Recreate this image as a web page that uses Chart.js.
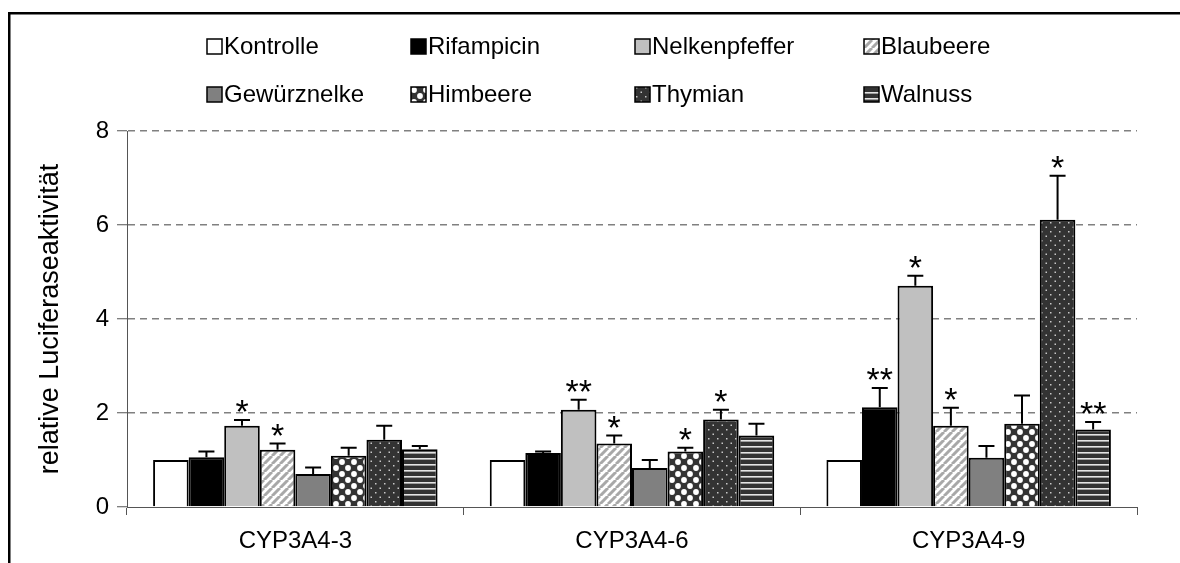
<!DOCTYPE html>
<html><head><meta charset="utf-8">
<script src="https://cdn.jsdelivr.net/npm/chart.js@4"></script>
<style>html,body{margin:0;padding:0;background:#fff;}#wrap{width:1180px;height:563px;position:relative;}</style>
</head><body><div id="wrap"><canvas id="c"></canvas></div>
<script>
const categories = ['CYP3A4-3', 'CYP3A4-6', 'CYP3A4-9'];
const seriesNames = ['Kontrolle', 'Rifampicin', 'Nelkenpfeffer', 'Blaubeere', 'Gewürznelke', 'Himbeere', 'Thymian', 'Walnuss'];
const yTicks = [0, 2, 4, 6, 8];

const kontrolle     = [1.00, 1.00, 1.00];
const rifampicin    = [1.06, 1.15, 2.12];
const nelkenpfeffer = [1.73, 2.07, 4.71];
const blaubeere     = [1.22, 1.35, 1.73];
const gewuerznelke  = [0.70, 0.83, 1.05];
const himbeere      = [1.09, 1.18, 1.77];
const thymian       = [1.43, 1.86, 6.11];
const walnuss       = [1.23, 1.52, 1.65];

const kontrolleErr     = [0, 0, 0];
const rifampicinErr    = [0.12, 0.03, 0.41];
const nelkenpfefferErr = [0.12, 0.21, 0.21];
const blaubeereErr     = [0.13, 0.17, 0.38];
const gewuerznelkeErr  = [0.14, 0.17, 0.25];
const himbeereErr      = [0.17, 0.08, 0.60];
const thymianErr       = [0.30, 0.21, 0.94];
const walnussErr       = [0.07, 0.25, 0.16];

const kontrolleSig     = ['', '', ''];
const rifampicinSig    = ['', '', '**'];
const nelkenpfefferSig = ['*', '**', '*'];
const blaubeereSig     = ['*', '*', '*'];
const gewuerznelkeSig  = ['', '', ''];
const himbeereSig      = ['', '*', ''];
const thymianSig       = ['', '*', '*'];
const walnussSig       = ['', '', '**'];

const FONT = "'Liberation Sans', Arial, sans-serif";

function tile(w, h, draw) {
  const c = document.createElement('canvas');
  c.width = w; c.height = h;
  const g = c.getContext('2d');
  draw(g, w, h);
  return document.createElement('canvas').getContext('2d').createPattern(c, 'repeat');
}
const patStripes = tile(8, 8, (g) => {
  g.fillStyle = '#fff'; g.fillRect(0, 0, 8, 8);
  g.strokeStyle = '#a8a8a8'; g.lineWidth = 3;
  g.beginPath();
  for (let k = -1; k <= 3; k++) { g.moveTo(k * 8 - 8, 8); g.lineTo(k * 8, 0); }
  g.stroke();
});
const patDiamond = tile(12, 12, (g) => {
  g.fillStyle = '#333'; g.fillRect(0, 0, 12, 12);
  g.fillStyle = '#fff';
  [[0, 0], [12, 0], [0, 12], [12, 12], [6, 6]].forEach(([x, y]) => {
    g.beginPath(); g.arc(x, y, 2.9, 0, Math.PI * 2); g.fill();
  });
});
const patDots = tile(9, 9, (g) => {
  g.fillStyle = '#333'; g.fillRect(0, 0, 9, 9);
  g.fillStyle = '#c8c8c8';
  g.fillRect(1.5, 1.5, 1.5, 1.5);
  g.fillRect(6, 6, 1.5, 1.5);
});
const patLines = tile(6, 6, (g) => {
  g.fillStyle = '#333'; g.fillRect(0, 0, 6, 6);
  g.fillStyle = '#e4e4e4'; g.fillRect(0, 2, 6, 1.6);
});

const values = [kontrolle, rifampicin, nelkenpfeffer, blaubeere, gewuerznelke, himbeere, thymian, walnuss];
const errs = [kontrolleErr, rifampicinErr, nelkenpfefferErr, blaubeereErr, gewuerznelkeErr, himbeereErr, thymianErr, walnussErr];
const sigs = [kontrolleSig, rifampicinSig, nelkenpfefferSig, blaubeereSig, gewuerznelkeSig, himbeereSig, thymianSig, walnussSig];
const fills = ['#ffffff', '#000000', '#c0c0c0', patStripes, '#808080', patDiamond, patDots, patLines];

const datasets = seriesNames.map((n, i) => ({
  label: n,
  data: values[i],
  backgroundColor: fills[i],
  borderColor: '#000',
  borderWidth: 2,
  borderSkipped: 'bottom',
  categoryPercentage: 0.845,
  barPercentage: 1.0,
  errs: errs[i],
  sigs: sigs[i]
}));

const legendCols = [207, 411, 635, 864];
const legendRows = [47, 95];

const extras = {
  id: 'extras',
  beforeDraw(chart) {
    const ctx = chart.ctx;
    ctx.save();
    ctx.strokeStyle = '#000'; ctx.lineWidth = 2.5;
    ctx.beginPath();
    ctx.moveTo(9.25, 600); ctx.lineTo(9.25, 13.25); ctx.lineTo(1200, 13.25);
    ctx.stroke();
    ctx.restore();
  },
  afterDatasetsDraw(chart) {
    const ctx = chart.ctx;
    const ys = chart.scales.y;
    ctx.save();
    chart.data.datasets.forEach((ds, i) => {
      const meta = chart.getDatasetMeta(i);
      meta.data.forEach((bar, j) => {
        const v = ds.data[j], e = ds.errs[j];
        const top = ys.getPixelForValue(v + e);
        if (e > 0) {
          const base = ys.getPixelForValue(v);
          ctx.strokeStyle = '#000'; ctx.lineWidth = 2;
          ctx.beginPath();
          ctx.moveTo(bar.x, base); ctx.lineTo(bar.x, top);
          ctx.moveTo(bar.x - 8, top); ctx.lineTo(bar.x + 8, top);
          ctx.stroke();
        }
        const s = ds.sigs[j];
        if (s) {
          ctx.font = '34px ' + FONT;
          ctx.fillStyle = '#000';
          ctx.textAlign = 'center';
          ctx.textBaseline = 'alphabetic';
          const m = ctx.measureText(s);
          const yb = top - 8 - m.actualBoundingBoxDescent;
          ctx.fillText(s, bar.x, yb);
        }
      });
    });
    ctx.restore();
  },
  afterDraw(chart) {
    const ctx = chart.ctx;
    ctx.save();
    chart.data.datasets.forEach((ds, i) => {
      const x = legendCols[i % 4], y = legendRows[Math.floor(i / 4)];
      ctx.fillStyle = ds.backgroundColor;
      ctx.fillRect(x, y - 8, 15, 15);
      ctx.strokeStyle = '#000'; ctx.lineWidth = 1.5;
      ctx.strokeRect(x, y - 8, 15, 15);
      ctx.fillStyle = '#000';
      ctx.font = '24px ' + FONT;
      ctx.textAlign = 'left'; ctx.textBaseline = 'middle';
      ctx.fillText(ds.label, x + 17, y);
    });
    ctx.restore();
  }
};

new Chart(document.getElementById('c'), {
  type: 'bar',
  data: { labels: categories, datasets },
  options: {
    responsive: true, maintainAspectRatio: false, animation: false, devicePixelRatio: 1,
    layout: { padding: { top: 131, right: 43, left: 0, bottom: 0 } },
    plugins: { legend: { display: false }, tooltip: { enabled: false } },
    scales: {
      x: {
        grid: { display: true, drawOnChartArea: false, drawTicks: true, tickLength: 8, color: '#555', offset: true },
        border: { display: true, color: '#555', width: 1 },
        ticks: { color: '#000', font: { family: FONT, size: 24 }, padding: 12 },
        afterFit(s) { s.height = 56; }
      },
      y: {
        min: 0, max: 8,
        afterBuildTicks(s) { s.ticks = yTicks.map(v => ({ value: v })); },
        grid: {
          color: (c) => c.tick && c.tick.value === 0 ? 'rgba(0,0,0,0)' : '#808080',
          lineWidth: 1.5, tickLength: 10, tickColor: '#555', tickWidth: 1,
          tickBorderDash: []
        },
        border: { display: true, color: '#555', width: 1, dash: [7, 5] },
        ticks: { color: '#000', font: { family: FONT, size: 24 }, padding: 8 },
        title: { display: true, text: 'relative Luciferaseaktivität', color: '#000', font: { family: FONT, size: 27 }, padding: { top: 34, bottom: 0 } },
        afterFit(s) { s.width = 127; }
      }
    }
  },
  plugins: [extras]
});
</script></body></html>
